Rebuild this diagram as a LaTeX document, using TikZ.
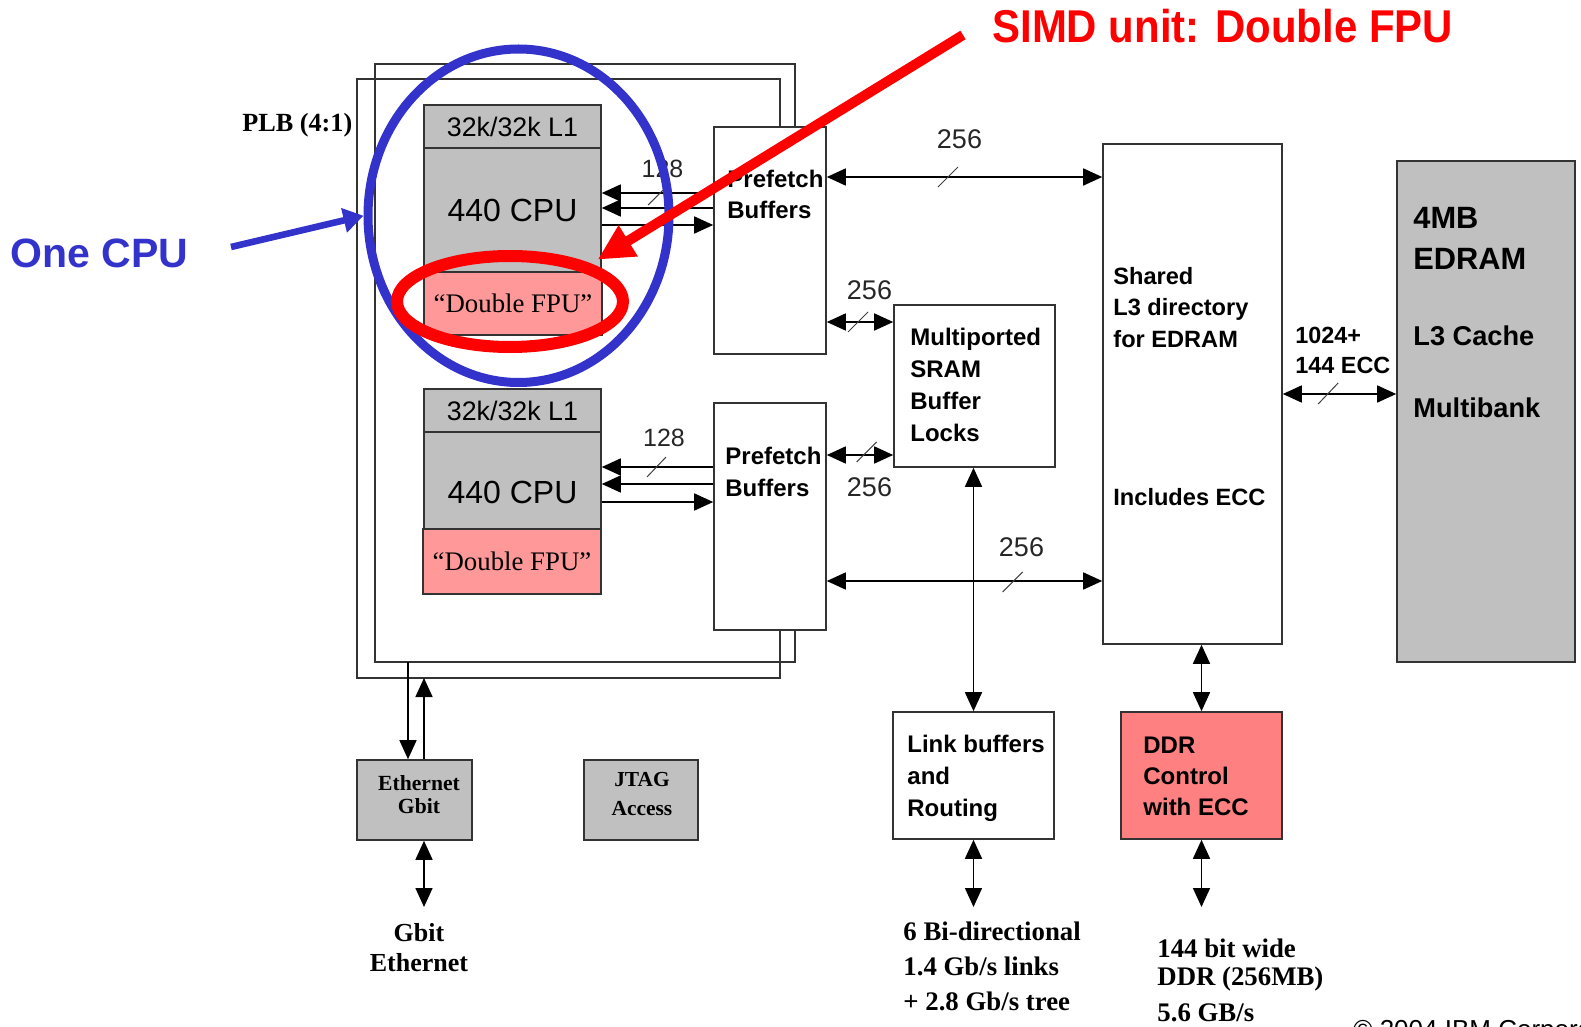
\documentclass[tikz,border=0pt]{standalone}
\usepackage{fontspec}
\setmainfont{Liberation Sans}
\newfontfamily\tmsfont{Liberation Serif}
\usepackage{graphicx}
\usetikzlibrary{arrows.meta,calc,positioning,shapes.geometric}
\definecolor{boxgray}{RGB}{192,192,192}
\definecolor{fpupink}{RGB}{255,153,153}
\definecolor{ddrred}{RGB}{255,128,128}
\definecolor{callblue}{RGB}{51,51,204}
\definecolor{callred}{RGB}{255,0,0}
\newcommand{\fsz}[2]{\fontsize{#1}{#2}\selectfont}

\begin{document}
\begin{tikzpicture}[x=0.5pt, y=-0.5pt,
    sz/.style 2 args={minimum width=#1*0.5pt, minimum height=#2*0.5pt},
    blk/.style={draw=black!80, line width=0.8pt, inner sep=0pt, fill=#1},
    blk/.default=white,
    tx/.style={inner sep=0pt, anchor=north west, align=left},
    num/.style={inner sep=0pt, font=\fsz{13.5}{16}, text=black!85},
    >={Triangle[length=9.5pt, width=8.5pt]},
    bus/.style={->, line width=0.8pt, draw=black},
    bbus/.style={<->, line width=0.8pt, draw=black},
    wire/.style={line width=0.8pt, draw=black!80},
    slash/.style={line width=0.5pt, draw=black!75},
    ring/.style={ellipse, draw=#1, inner sep=0pt}]

    \useasboundingbox (0,0) rectangle (1581,1027);

    % CPU 0
    \node[blk=boxgray, sz={177}{43}, font=\fsz{13.4}{15}] (l1A) at (512.5,126.5) {32k/32k L1};
    \node[blk=boxgray, sz={177}{124}, font=\fsz{16}{18}] (cpuA) at (512.5,210) {440 CPU};
    \node[blk=fpupink, sz={178}{63}, font=\tmsfont\fsz{13.4}{15}] (fpuA) at (513,303.5) {“Double FPU”};

    % CPU 1
    \node[blk=boxgray, sz={177}{43}, font=\fsz{13.4}{15}] (l1B) at (512.5,410.5) {32k/32k L1};
    \node[blk=boxgray, sz={177}{97}] (cpuB) at (512.5,480.5) {};
    \node[inner sep=0pt, font=\fsz{16}{18}] (cpuBtxt) at (512.5,492) {440 CPU};
    \node[blk=fpupink, sz={178}{65}, font=\tmsfont\fsz{13.4}{15}] (fpuB) at (512,561.5) {“Double FPU”};

    % prefetch buffers
    \node[blk, sz={112}{227}] (pbA) at (770,240.5) {};
    \node[tx, font=\bfseries\fsz{12}{15.5}] (pbAtxt) at (727,170) {Prefetch\\Buffers};
    \node[blk, sz={112}{227}] (pbB) at (770,516.5) {};
    \node[tx, font=\bfseries\fsz{12}{16}] (pbBtxt) at (725,447) {Prefetch\\Buffers};

    % shared part
    \node[blk, sz={161}{162}] (sram) at (974.5,386) {};
    \node[tx, font=\bfseries\fsz{12}{16}] (sramtxt) at (910,328) {Multiported\\SRAM\\Buffer\\Locks};
    \node[blk, sz={179}{500}] (ldir) at (1192.5,394) {};
    \node[tx, font=\bfseries\fsz{11.8}{15.75}] (ldirtxt) at (1113,267) {Shared\\L3 directory\\for EDRAM};
    \node[tx, font=\bfseries\fsz{11.8}{15.75}] (ldirecc) at (1113,488) {Includes ECC};
    \node[blk=boxgray, sz={178}{501}] (edram) at (1486,411.5) {};
    \node[tx, font=\bfseries\fsz{15.4}{20.5}] (edramtxt) at (1413,207) {4MB\\EDRAM};
    \node[tx, font=\bfseries\fsz{13.6}{16}] (edramlc) at (1413,325) {L3 Cache};
    \node[tx, font=\bfseries\fsz{13.6}{16}] (edrammb) at (1413,397) {Multibank};
    \node[tx, font=\bfseries\fsz{11.7}{15}] (eccw) at (1295,327) {1024+\\144 ECC};

    \node[blk, sz={161}{127}] (link) at (973.5,775.5) {};
    \node[tx, font=\bfseries\fsz{12}{16}] (linktxt) at (907,735) {Link buffers\\and\\Routing};
    \node[blk=ddrred, sz={161}{127}] (ddr) at (1201.5,775.5) {};
    \node[tx, font=\bfseries\fsz{12}{15.5}] (ddrtxt) at (1143,737) {DDR\\Control\\with ECC};

    \node[blk=boxgray, sz={115}{80}] (eth) at (414.5,800) {};
    \node[inner sep=0pt, anchor=north, align=center, font=\tmsfont\bfseries\fsz{10.8}{11.5}] (ethtxt) at (419,775) {Ethernet\\Gbit};
    \node[blk=boxgray, sz={114}{80}] (jtag) at (641,800) {};
    \node[inner sep=0pt, anchor=north, align=center, font=\tmsfont\bfseries\fsz{10.7}{14.5}] (jtagtxt) at (642,772) {JTAG\\Access};

    % PLB frames
    \coordinate (plbAtl) at (375,64);
    \coordinate (plbAbl) at (375,662);
    \coordinate (plbBtl) at (357,79);
    \coordinate (plbBbl) at (357,678);
    \draw[wire] ([xshift=12.5pt]pbA.north) |- (plbAtl) -- (plbAbl) -| ([xshift=12.5pt]pbB.south);
    \draw[wire] ([xshift=5pt]pbA.north) |- (plbBtl) -- (plbBbl) -| ([xshift=5pt]pbB.south);
    \node[tx, font=\tmsfont\bfseries\fsz{13.1}{15}] (plb) at (242,113) {PLB (4:1)};

    % 128 bit CPU ports
    \draw[bus] ([yshift=8.5pt]cpuA.east -| pbA.west) -- coordinate[pos=.513] (skA) ([yshift=8.5pt]cpuA.east);
    \draw[bus] ([yshift=1pt]cpuA.east -| pbA.west) -- ([yshift=1pt]cpuA.east);
    \draw[bus] ([yshift=-7.5pt]cpuA.east) -- ([yshift=-7.5pt]cpuA.east -| pbA.west);
    \draw[slash] ([shift={(-8,12)}]skA) -- ([shift={(7,-3)}]skA);
    \node[inner sep=0pt, font=\fsz{12.5}{15}, text=black!85] (wA) at (662.5,169) {128};

    \draw[bus] ([yshift=6.75pt]cpuB.east -| pbB.west) -- coordinate[pos=.509] (skB) ([yshift=6.75pt]cpuB.east);
    \draw[bus] ([yshift=-1.75pt]cpuB.east -| pbB.west) -- ([yshift=-1.75pt]cpuB.east);
    \draw[bus] ([yshift=-10.75pt]cpuB.east) -- ([yshift=-10.75pt]cpuB.east -| pbB.west);
    \draw[slash] ([shift={(-9.5,10)}]skB) -- ([shift={(9.5,-10)}]skB);
    \node[inner sep=0pt, font=\fsz{12.5}{15}, text=black!85] (wB) at (664,438) {128};

    % 256 bit paths
    \draw[bbus] ([yshift=31.75pt]pbA.east) -- coordinate[pos=.44] (skC) ([yshift=31.75pt]pbA.east -| ldir.west);
    \draw[slash] ([shift={(-10,10)}]skC) -- ([shift={(10,-10)}]skC);
    \node[num] (wC) at (959.5,139) {256};

    \draw[bbus] ([yshift=32pt]sram.west -| pbA.east) -- coordinate[pos=.47] (skD) ([yshift=32pt]sram.west);
    \draw[slash] ([shift={(-10,10)}]skD) -- ([shift={(10,-10)}]skD);
    \node[num] (wD) at (869.5,290) {256};

    \draw[bbus] ([yshift=-34.5pt]sram.west -| pbB.east) -- coordinate[pos=.6] (skE) ([yshift=-34.5pt]sram.west);
    \draw[slash] ([shift={(-10,7)}]skE) -- ([shift={(10,-13)}]skE);
    \node[num] (wE) at (869.5,487.5) {256};

    \draw[bbus] ([yshift=-32.25pt]pbB.east) -- coordinate[pos=.675] (skF) ([yshift=-32.25pt]pbB.east -| ldir.west);
    \draw[slash] ([shift={(-10,11)}]skF) -- ([shift={(10,-9)}]skF);
    \node[num] (wF) at (1021.5,547) {256};

    \draw[bbus] (ldir.east) -- coordinate[pos=.4] (skG) (ldir.east -| edram.west);
    \draw[slash] ([shift={(-10,10)}]skG) -- ([shift={(10,-11)}]skG);

    % vertical links
    \draw[bbus] (link.north |- sram.south) -- (link.north);
    \coordinate (linkEnd) at (973.5,907);
    \draw[bbus] (link.south) -- (linkEnd);
    \draw[bbus] (ddr.north |- ldir.south) -- (ddr.north);
    \coordinate (ddrEnd) at (1201.5,907);
    \draw[bbus] (ddr.south) -- (ddrEnd);
    \draw[bus] ([xshift=-3.25pt]eth.north |- plbAbl) -- ([xshift=-3.25pt]eth.north);
    \draw[bus] ([xshift=4.75pt]eth.north) -- ([xshift=4.75pt]eth.north |- plbBbl);
    \coordinate (ethEnd) at (424,907);
    \draw[bbus] ([xshift=4.75pt]eth.south) -- (ethEnd);

    % off-chip notes
    \node[inner sep=0pt, anchor=north, align=center, font=\tmsfont\bfseries\fsz{13}{15}] (gbe) at (419,923) {Gbit\\Ethernet};
    \node[tx, font=\tmsfont\bfseries\fsz{13.4}{17.5}] (linknote) at (903,922) {6 Bi-directional\\1.4 Gb/s links\\+ 2.8 Gb/s tree};
    \node[tx, font=\tmsfont\bfseries\fsz{13.4}{14.5}] (ddrnote) at (1157,938) {144 bit wide\\DDR (256MB)\\[3pt]5.6 GB/s};

    % call-outs
    \node[ring=callblue, line width=4.5pt, sz={301}{333.5}] (cpuring) at (518.5,215.75) {};
    \node[tx, font=\bfseries\fsz{20.5}{24}, text=callblue] (onecpu) at (10,238) {One CPU};
    \coordinate (oneStart) at (231,247);
    \draw[callblue, line width=3.3pt, -{Triangle[length=10pt, width=12pt]}] (oneStart) -- (cpuring.west);

    \node[ring=callred, line width=6pt, sz={226}{91}] (fpuring) at (510,301.5) {};
    \node[tx, font=\bfseries\fsz{23}{26}, text=callred] (simd) at (992,9) {\scalebox{0.912}[1]{SIMD unit: Double FPU}};
    \coordinate (simdStart) at (963,35);
    \draw[callred, line width=5pt, shorten >=3.9pt, -{Triangle[length=18pt, width=17pt]}] (simdStart) -- (fpuring.25);

    \begin{scope}
      \clip (0,0) rectangle (1581,1027);
      \node[tx, font=\fsz{13}{15}] (copyr) at (1353,1019) {© 2004 IBM Corporation};
    \end{scope}
\end{tikzpicture}
\end{document}
